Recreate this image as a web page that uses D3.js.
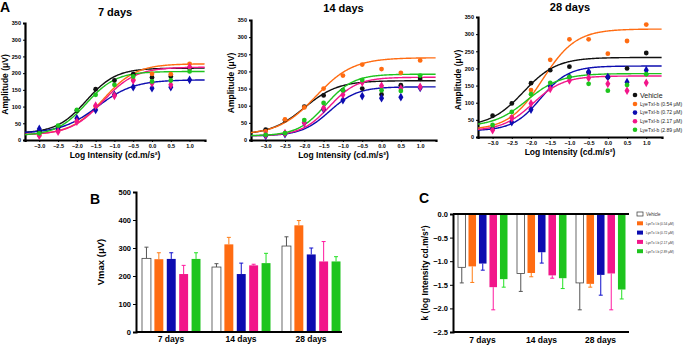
<!DOCTYPE html>
<html>
<head>
<meta charset="utf-8">
<script src="https://cdn.jsdelivr.net/npm/d3@7"></script>
<style>
  body { margin: 0; background: #fff; }
  svg { font-family: "Liberation Sans", Arial, sans-serif; }
  .tick text { font-weight: bold; }
</style>
</head>
<body>
<div class="chart"></div>
<script>
var svgWidth = 685;
var svgHeight = 346;

// data
var logIntensity = [-3.0, -2.5, -2.0, -1.5, -1.0, -0.5, 0.0, 0.5, 1.0];
var days = ["7 days", "14 days", "28 days"];
var groups = ["Vehicle", "LyeTxI-b (0.54 \u03bcM)", "LyeTxI-b (0.72 \u03bcM)", "LyeTxI-b (2.17 \u03bcM)", "LyeTxI-b (2.89 \u03bcM)"];
var groupsC = ["Vehicle", "LyeTx I-b (0.54 \u03bcM)", "LyeTx I-b (0.72 \u03bcM)", "LyeTx I-b (2.17 \u03bcM)", "LyeTx I-b (2.89 \u03bcM)"];
var colors = ["#111111", "#ff6c12", "#0c0cb0", "#f2168a", "#1ec41e"];

// amplitude (uV) per day, one row per intensity list
var ampVehicle = [[25, 40, 88, 152, 178, 197, 187, 190, 215],
                  [30, 58, 97, 130, 145, 150, 133, 160, 178],
                  [62, 98, 157, 195, 205, 188, 174, 200, 245]];
var ampLye054 = [[15, 28, 55, 100, 135, 180, 198, 197, 228],
                 [25, 60, 95, 150, 188, 220, 207, 196, 232],
                 [25, 58, 137, 225, 285, 285, 243, 280, 328]];
var ampLye072 = [[33, 33, 65, 90, 135, 158, 155, 158, 180],
                 [12, 17, 50, 90, 116, 128, 122, 125, 152],
                 [25, 43, 80, 148, 175, 190, 175, 160, 195]];
var ampLye217 = [[13, 25, 55, 103, 132, 178, 170, 165, 218],
                 [15, 20, 50, 93, 132, 168, 158, 150, 155],
                 [20, 55, 98, 140, 165, 172, 155, 135, 158]];
var ampLye289 = [[20, 43, 90, 135, 165, 190, 175, 178, 205],
                 [15, 20, 58, 108, 145, 175, 145, 143, 188],
                 [35, 73, 125, 158, 175, 155, 135, 152, 183]];

// fitted curve parameters [day][group]
var fitBottom = [[20, 15, 20, 15, 13], [15, 15, 12, 12, 12], [30, 20, 18, 18, 30]];
var fitTop = [[215, 228, 180, 218, 205], [173, 240, 155, 183, 192], [232, 315, 207, 178, 185]];
var fitMid = [[-1.75, -1.3, -1.45, -1.3, -1.75], [-2.0, -1.7, -1.35, -1.35, -1.45], [-2.2, -1.7, -1.75, -1.95, -2.1]];
var fitSlope = [[1.1, 1.0, 0.9, 1.0, 1.1], [1.0, 0.9, 1.2, 1.2, 1.2], [1.0, 1.0, 1.2, 1.1, 1.0]];

// panel B: Vmax mean and upper error, [day][group]
var vmaxMean = [[263, 260, 261, 207, 261], [232, 313, 207, 238, 246], [307, 381, 277, 252, 252]];
var vmaxErr = [[303, 283, 283, 238, 283], [244, 338, 246, 242, 281], [340, 398, 300, 323, 269]];

// panel C: k mean and lower error, [day][group]
var kMean = [[-1.13, -1.11, -1.05, -1.55, -1.38], [-1.26, -1.25, -0.81, -1.30, -1.36], [-1.46, -1.48, -1.29, -1.26, -1.60]];
var kErr = [[-1.46, -1.45, -1.19, -2.03, -1.55], [-1.64, -1.33, -1.04, -1.36, -1.58], [-2.03, -1.55, -1.72, -2.03, -1.80]];

var yTicksA = [0, 50, 100, 150, 200, 250, 300, 350];
var xTicksA = [-3.0, -2.5, -2.0, -1.5, -1.0, -0.5, 0.0, 0.5, 1.0];

var svg = d3.select(".chart")
    .append("svg")
    .attr("width", svgWidth)
    .attr("height", svgHeight);

var ampSeries = [ampVehicle, ampLye054, ampLye072, ampLye217, ampLye289];
var symbols = [d3.symbolCircle, d3.symbolCircle, d3.symbolDiamond, d3.symbolDiamond, d3.symbolCircle];

// panel A layout: x0,x1 of the axes, y of the baseline and y of 350
var panelsA = [
    { x0: 25, x1: 205, y0: 140, y350: 23, titleY: 16 },
    { x0: 251, x1: 436, y0: 140, y350: 20, titleY: 12 },
    { x0: 478, x1: 662, y0: 137, y350: 17, titleY: 11 }
];

panelsA.forEach(function (p, di) {
    var x = d3.scaleLinear().domain([-3.38, 1.41]).range([p.x0, p.x1]);
    var y = d3.scaleLinear().domain([0, 350]).range([p.y0, p.y350]);
    var g = svg.append("g");

    g.append("g")
        .attr("transform", `translate(0,${p.y0})`)
        .call(d3.axisBottom(x).tickValues(xTicksA).tickFormat(d3.format(".1f")).tickSize(2).tickPadding(2))
        .call(a => a.selectAll("text").attr("font-size", 5.5))
        .call(a => a.select(".domain").attr("stroke-width", 2.2));

    g.append("g")
        .attr("transform", `translate(${p.x0},0)`)
        .call(d3.axisLeft(y).tickValues(yTicksA).tickSize(2).tickPadding(2))
        .call(a => a.selectAll("text").attr("font-size", 5.5))
        .call(a => a.select(".domain").attr("stroke-width", 2.2));

    var line = d3.line().x(d => x(d[0])).y(d => y(d[1]));
    var xs = d3.range(-3.38, 1.42, 0.02);

    ampSeries.forEach(function (series, gi) {
        var b = fitBottom[di][gi], t = fitTop[di][gi], m = fitMid[di][gi], h = fitSlope[di][gi];
        var pts = xs.map(v => [v, b + (t - b) / (1 + Math.pow(10, (m - v) * h))]);
        g.append("path")
            .attr("d", line(pts))
            .attr("fill", "none")
            .attr("stroke", colors[gi])
            .attr("stroke-width", 1.4);
    });

    ampSeries.forEach(function (series, gi) {
        g.selectAll(".pt" + gi)
            .data(series[di])
            .enter()
            .append("path")
            .attr("transform", (d, i) => `translate(${x(logIntensity[i])},${y(d)})`)
            .attr("d", d3.symbol().type(symbols[gi]).size(symbols[gi] === d3.symbolDiamond ? 22 : 18))
            .attr("fill", colors[gi]);
    });

    g.append("text")
        .attr("x", (p.x0 + p.x1) / 2)
        .attr("y", p.titleY)
        .attr("text-anchor", "middle")
        .attr("font-size", 11)
        .attr("font-weight", "bold")
        .text(days[di]);

    g.append("text")
        .attr("x", (p.x0 + p.x1) / 2)
        .attr("y", p.y0 + 18)
        .attr("text-anchor", "middle")
        .attr("font-size", 8.5)
        .attr("font-weight", "bold")
        .text("Log Intensity (cd.m/s\u00b2)");

    g.append("text")
        .attr("transform", `translate(${p.x0 - 17},${(p.y0 + p.y350) / 2 + 3}) rotate(-90)`)
        .attr("text-anchor", "middle")
        .attr("font-size", 8.5)
        .attr("font-weight", "bold")
        .text("Amplitude (\u03bcV)");
});

svg.append("text").attr("x", 0).attr("y", 12).attr("font-size", 14).attr("font-weight", "bold").text("A");

// legend in the 28 days panel
var legA = svg.append("g").attr("transform", "translate(635,95)");
groups.forEach(function (name, gi) {
    var row = legA.append("g").attr("transform", `translate(0,${gi === 0 ? 0 : 9 + (gi - 1) * 8.6})`);
    row.append("circle").attr("r", 2.3).attr("fill", colors[gi]);
    row.append("text")
        .attr("x", 5)
        .attr("y", gi === 0 ? 2.5 : 1.8)
        .attr("font-size", gi === 0 ? 7 : 5)
        .attr("fill", "#222")
        .text(name);
});

// grouped bar helper for B and C
function barPanel(opt) {
    var x0 = d3.scaleBand().domain(days).range([opt.left, opt.left + opt.step * 3]);
    var x1 = d3.scaleBand().domain(groups).range([opt.inner0, opt.inner1]).paddingInner(0.28);
    var y = d3.scaleLinear().domain(opt.domain).range([opt.yBottom, opt.yTop]);
    var g = svg.append("g");

    days.forEach(function (day, di) {
        groups.forEach(function (grp, gi) {
            var bx = x0(day) + x1(grp);
            var v = opt.mean[di][gi];
            var e = opt.err[di][gi];
            var errColor = gi === 0 ? "#555" : d3.color(colors[gi]).brighter(0.4);
            g.append("line")
                .attr("x1", bx + x1.bandwidth() / 2).attr("x2", bx + x1.bandwidth() / 2)
                .attr("y1", y(v)).attr("y2", y(e))
                .attr("stroke", errColor).attr("stroke-width", 1);
            g.append("line")
                .attr("x1", bx + x1.bandwidth() / 2 - 2).attr("x2", bx + x1.bandwidth() / 2 + 2)
                .attr("y1", y(e)).attr("y2", y(e))
                .attr("stroke", errColor).attr("stroke-width", 1);
            g.append("rect")
                .attr("x", bx)
                .attr("y", Math.min(y(v), y(0)))
                .attr("width", x1.bandwidth())
                .attr("height", Math.abs(y(v) - y(0)))
                .attr("fill", gi === 0 ? "#fff" : colors[gi])
                .attr("stroke", gi === 0 ? "#444" : "none")
                .attr("stroke-width", 0.8);
        });
    });

    g.append("g")
        .attr("transform", `translate(${opt.left},0)`)
        .call(d3.axisLeft(y).tickValues(opt.ticks).tickFormat(opt.format).tickSize(3).tickPadding(2))
        .call(a => a.selectAll("text").attr("font-size", 7.5))
        .call(a => a.select(".domain").attr("stroke-width", 2));

    g.append("g")
        .attr("transform", `translate(0,${opt.yBottom})`)
        .call(d3.axisBottom(x0).tickSize(0).tickPadding(opt.labelPad))
        .call(a => a.selectAll("text").attr("font-size", 8.5))
        .call(a => a.select(".domain").attr("stroke-width", 2).attr("d", `M${opt.left},0H${opt.axisEnd}`));

    if (opt.zeroLine) {
        g.append("line")
            .attr("x1", opt.left).attr("x2", opt.axisEnd)
            .attr("y1", y(0)).attr("y2", y(0))
            .attr("stroke", "#000").attr("stroke-width", 2);
    }

    g.append("text")
        .attr("transform", `translate(${opt.labelX},${(opt.yBottom + opt.yTop) / 2}) rotate(-90)`)
        .attr("text-anchor", "middle")
        .attr("font-size", opt.labelSize)
        .attr("font-weight", "bold")
        .text(opt.label);
}

barPanel({
    left: 136, step: 70, inner0: 6, inner1: 64.5, axisEnd: 342,
    domain: [0, 500], yBottom: 332, yTop: 192,
    ticks: [0, 100, 200, 300, 400, 500], format: d3.format("d"),
    mean: vmaxMean, err: vmaxErr, labelPad: 4,
    label: "Vmax (\u03bcV)", labelX: 104, labelSize: 9.5
});
svg.append("text").attr("x", 90).attr("y", 204).attr("font-size", 14).attr("font-weight", "bold").text("B");

barPanel({
    left: 453, step: 59, inner0: 5, inner1: 54.5, axisEnd: 629,
    domain: [-2.5, 0], yBottom: 332, yTop: 214,
    ticks: [-2.5, -2.0, -1.5, -1.0, -0.5, 0.0], format: d3.format(".1f"),
    mean: kMean, err: kErr, labelPad: 5, zeroLine: true,
    label: "k (log Intensity cd.m/s\u00b2)", labelX: 428, labelSize: 8.5
});
svg.append("text").attr("x", 419).attr("y", 203).attr("font-size", 14).attr("font-weight", "bold").text("C");

// legend for C
var legC = svg.append("g").attr("transform", "translate(637,212)");
groupsC.forEach(function (name, gi) {
    var row = legC.append("g").attr("transform", `translate(0,${gi * 9.3})`);
    row.append("rect")
        .attr("width", 6).attr("height", 4)
        .attr("fill", gi === 0 ? "#fff" : colors[gi])
        .attr("stroke", gi === 0 ? "#333" : "none")
        .attr("stroke-width", 0.7);
    row.append("text")
        .attr("x", 9).attr("y", 3.8)
        .attr("font-size", gi === 0 ? 4.5 : 3.2)
        .attr("fill", "#333")
        .text(name);
});
</script>
</body>
</html>
